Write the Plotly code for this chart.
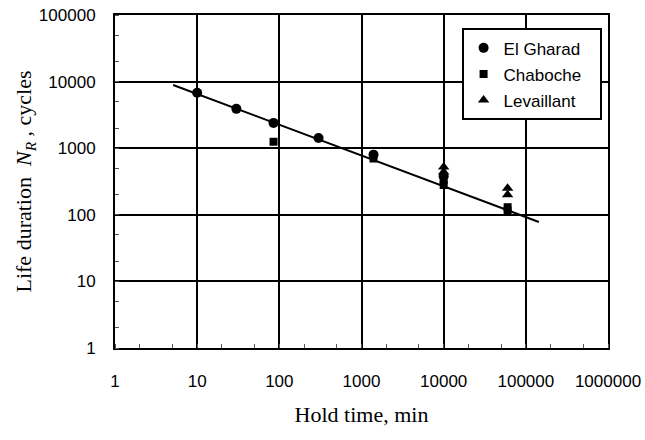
import plotly.graph_objects as go

# Data
gharad_x = [10, 30, 85, 300, 1400, 10000]
gharad_y = [6800, 3900, 2400, 1420, 800, 380]
chaboche_x = [85, 1400, 10000, 10000, 60000, 60000]
chaboche_y = [1250, 700, 330, 280, 130, 115]
levaillant_x = [10000, 10000, 60000, 60000]
levaillant_y = [520, 440, 250, 200]
fit_x = [5.1, 144000]
fit_y = [8900, 78]

x_ticks = [1, 10, 100, 1000, 10000, 100000, 1000000]
y_ticks = [1, 10, 100, 1000, 10000, 100000]

fig = go.Figure()
fig.add_trace(go.Scatter(x=fit_x, y=fit_y, mode="lines",
                         line=dict(color="black", width=2), showlegend=False))
fig.add_trace(go.Scatter(x=gharad_x, y=gharad_y, mode="markers", name="El Gharad",
                         legendgroup="g1",
                         marker=dict(symbol="circle", size=10, color="black")))
fig.add_trace(go.Scatter(x=chaboche_x, y=chaboche_y, mode="markers", name="Chaboche",
                         legendgroup="g2",
                         marker=dict(symbol="square", size=8, color="black")))
fig.add_trace(go.Scatter(x=levaillant_x, y=levaillant_y, mode="markers",
                         name="Levaillant\u00a0\u00a0\u00a0\u00a0",
                         legendgroup="g3",
                         marker=dict(symbol="triangle-up", size=10, color="black")))

tickfont = dict(family="Liberation Sans", size=17, color="black")
fig.update_layout(
    width=645, height=440,
    margin=dict(l=115, r=37, t=15, b=92),
    paper_bgcolor="white", plot_bgcolor="white",
    legend=dict(x=0.703, y=0.96, xanchor="left", yanchor="top",
                bgcolor="white", bordercolor="black", borderwidth=2,
                font=dict(family="Liberation Sans", size=17, color="black"),
                itemwidth=30, tracegroupgap=1),
)
fig.update_xaxes(
    type="log", range=[0, 6], tickvals=x_ticks, ticktext=[str(v) for v in x_ticks],
    showgrid=True, gridcolor="black", gridwidth=2,
    showline=True, linecolor="black", linewidth=2, mirror=True,
    ticks="", tickfont=tickfont, ticklabelstandoff=17, automargin=False,
    minor=dict(ticks="inside", ticklen=4, tickcolor="#555", showgrid=False),
    title=dict(text="Hold time, min", standoff=16,
               font=dict(family="Liberation Serif", size=22, color="black")),
    zeroline=False,
)
fig.update_yaxes(
    type="log", range=[0, 5], tickvals=y_ticks, ticktext=[str(v) for v in y_ticks],
    showgrid=True, gridcolor="black", gridwidth=2,
    showline=True, linecolor="black", linewidth=2, mirror=True,
    ticks="", tickfont=tickfont, ticklabelstandoff=14, automargin=False,
    minor=dict(ticks="inside", ticklen=4, tickcolor="#555", showgrid=False),
    title=dict(text="Life duration  <i>N</i><sub><i>R</i></sub> , cycles", standoff=1,
               font=dict(family="Liberation Serif", size=22, color="black")),
    zeroline=False,
)

fig.write_html("out.html")
